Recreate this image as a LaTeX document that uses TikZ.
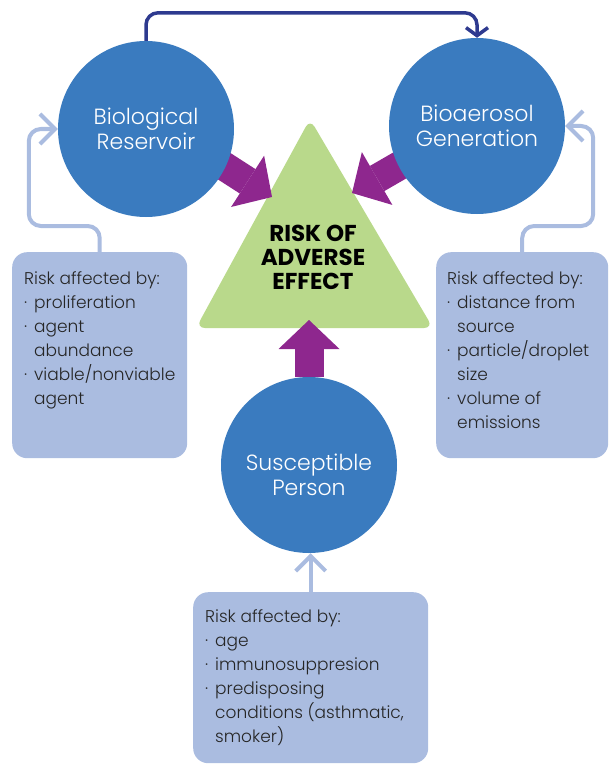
\documentclass[tikz,border=0pt]{standalone}
\usepackage{fontspec}
\setmainfont{Poppins}
\IfFontExistsTF{Poppins Light}{\newfontfamily\lightfont{Poppins Light}}{\newfontfamily\lightfont{Poppins}}
\usetikzlibrary{arrows.meta,calc}
\definecolor{cblue}{HTML}{3A7BBF}
\definecolor{lblue}{HTML}{AABCE0}
\definecolor{tgreen}{HTML}{B9D98B}
\definecolor{purp}{HTML}{8E278E}
\definecolor{navy}{HTML}{2E3A8F}
\definecolor{txt}{HTML}{262626}
\newcommand{\bl}{\makebox[10pt][l]{·}}
\newcommand{\ind}{\hspace*{10pt}}
\begin{document}
\begin{tikzpicture}[x=1pt,y=-1pt,
  circ/.style={circle, fill=cblue, minimum size=176pt, inner sep=0pt, text=white, align=center, font=\lightfont\fontsize{22}{25}\selectfont},
  infobox/.style={fill=lblue, rounded corners=15pt, inner sep=0pt, anchor=north west},
  infotext/.style={anchor=north west, inner sep=0pt, align=left, text=txt, font=\lightfont\fontsize{17}{24}\selectfont},
  parrow/.style={draw=purp, line width=29pt, -{Triangle[width=61pt,length=29pt,line width=0pt]}},
  lconn/.style={draw=lblue, line width=4pt, rounded corners=12pt, -{Straight Barb[length=15pt,width=30pt]}},
  narrow/.style={draw=navy, line width=3.5pt, rounded corners=12pt, -{Straight Barb[length=8pt,width=22pt]}}
]
\useasboundingbox (0,0) rectangle (610,765);
% info boxes
\node[infobox, minimum width=175pt, minimum height=206pt] (lbox) at (12,252) {};
\node[infobox, minimum width=172pt, minimum height=206pt] (rbox) at (436,252) {};
\node[infobox, minimum width=235pt, minimum height=171pt] (bbox) at (193,592) {};
\node[infotext] (ltext) at (24,271) {Risk affected by:\\\bl proliferation\\\bl agent\\\ind abundance\\\bl viable/nonviable\\\ind agent};
\node[infotext] (rtext) at (447,271) {Risk affected by:\\\bl distance from\\\ind source\\\bl particle/droplet\\\ind size\\\bl volume of\\\ind emissions};
\node[infotext] (btext) at (205,609) {Risk affected by:\\\bl age\\\bl immunosuppresion\\\bl predisposing\\\ind conditions (asthmatic,\\\ind smoker)};
% triangle
\fill[tgreen, rounded corners=9pt] (310,119) -- (433,328) -- (196,328) -- cycle;
\node[align=center, text=black, font=\fontsize{23}{24}\bfseries\selectfont] (risk) at (313,257) {RISK OF\\ADVERSE\\EFFECT};
% purple arrows
\coordinate (ls) at (171,132);
\coordinate (lt) at (272,197);
\coordinate (rs) at (456,133);
\coordinate (rt) at (352,193);
\coordinate (ut) at (309,320);
\draw[parrow] (ls) -- (lt);
\draw[parrow] (rs) -- (rt);
% circles
\node[circ] (br) at (146,129) {Biological\\Reservoir};
\node[circ] (bg) at (477,126) {Bioaerosol\\Generation};
\node[circ] (sp) at (309,465) {\rule{0pt}{36pt}Susceptible\\Person};
\draw[parrow] (sp.north) -- (ut);
% connectors
\draw[narrow] (br.north) -- ++(0,-28) -| (bg.north);
\draw[lconn] (lbox.north) -- ++(0,-26) -| ($(br.west)+(-29,0)$) -- (br.west);
\draw[lconn] (rbox.north) -- ++(0,-26) -| ($(bg.east)+(28,0)$) -- (bg.east);
\draw[lconn] (bbox.north) -- (bbox.north |- sp.south);
\end{tikzpicture}
\end{document}
